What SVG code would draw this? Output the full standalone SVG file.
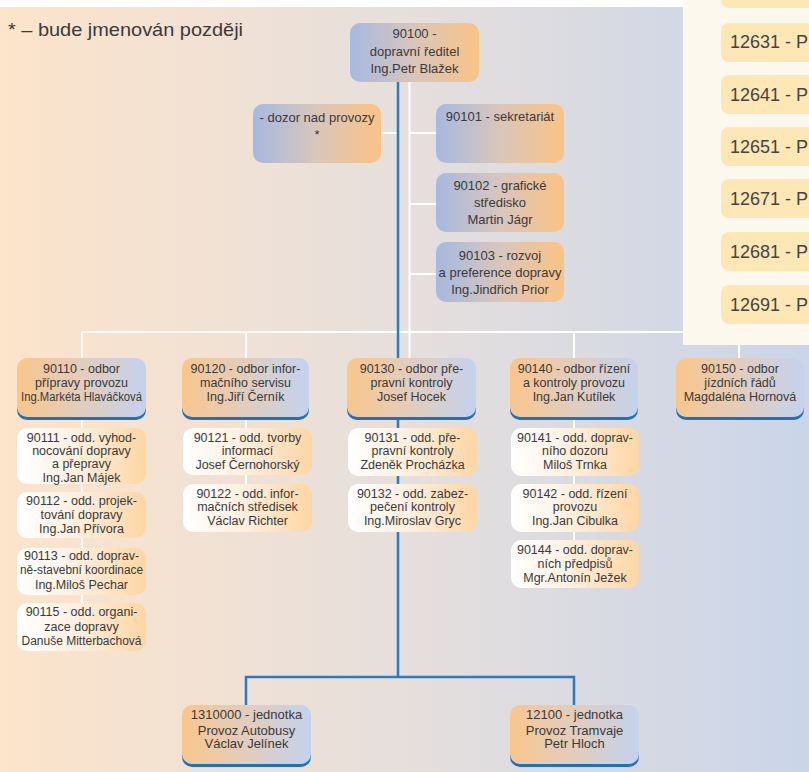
<svg xmlns="http://www.w3.org/2000/svg" width="809" height="772" viewBox="0 0 809 772">
<defs>
<linearGradient id="bg" x1="0" y1="0" x2="1" y2="0"><stop offset="0" stop-color="#fde4cb"/><stop offset="0.5" stop-color="#e6dfdc"/><stop offset="1" stop-color="#cad5e9"/></linearGradient>
<linearGradient id="gTop" x1="0" y1="0" x2="1" y2="0"><stop offset="0" stop-color="#a6b9e0"/><stop offset="0.5" stop-color="#d9c6bb"/><stop offset="1" stop-color="#fbc385"/></linearGradient>
<linearGradient id="gDept" x1="0" y1="0" x2="1" y2="0"><stop offset="0" stop-color="#f9c68c"/><stop offset="0.5" stop-color="#e2cdbd"/><stop offset="1" stop-color="#c4d2ed"/></linearGradient>
<linearGradient id="gSub" x1="0" y1="0" x2="1" y2="0"><stop offset="0" stop-color="#ffffff"/><stop offset="0.45" stop-color="#fef0e0"/><stop offset="1" stop-color="#fdd6a3"/></linearGradient>
</defs>
<style>
text{font-family:"Liberation Sans",Arial,sans-serif;fill:#3a3a3a;text-anchor:middle}
.t13{font-size:13px}
.t12{font-size:12.5px}
.top{fill:url(#gTop)}
.dept{fill:url(#gDept)}
.sh{fill:#1c73bc}
.sub{fill:url(#gSub)}
.wl{stroke:#ffffff;stroke-width:2;fill:none}
.bl{stroke:#2a7cc2;stroke-width:2.5;fill:none}
.pi{fill:#fde7b4}
.pt{font-size:18px;text-anchor:start;fill:#444444}
</style>
<rect x="0" y="0" width="809" height="772" fill="#ffffff"/>
<rect x="0" y="7" width="809" height="765" fill="url(#bg)"/>
<text x="8" y="36" style="font-size:18.5px;text-anchor:start" textLength="235" lengthAdjust="spacingAndGlyphs">* – bude jmenován později</text>

<g id="connectors">
<path class="wl" d="M409.5 82V358M82 332H739M82 332V358M246 332V358M574 332V358M739 332V358M381 133H398M410 133H436M410 204H436M410 274H436M82 417V603M246 417V484M574 417V540"/>
<path class="bl" d="M398 82V677M246 705V677H574V705"/>
</g>

<g id="panel">
<rect x="683" y="0" width="126" height="345" fill="#fdf8ee"/>
<rect class="pi" x="721" y="-31" width="100" height="39" rx="8"/>
<rect class="pi" x="721" y="23" width="100" height="39" rx="8"/>
<text class="pt" x="730" y="48">12631 - P</text>
<rect class="pi" x="721" y="75" width="100" height="39" rx="8"/>
<text class="pt" x="730" y="100.5">12641 - P</text>
<rect class="pi" x="721" y="127" width="100" height="39" rx="8"/>
<text class="pt" x="730" y="152.5">12651 - P</text>
<rect class="pi" x="721" y="179" width="100" height="39" rx="8"/>
<text class="pt" x="730" y="204.5">12671 - P</text>
<rect class="pi" x="721" y="232" width="100" height="39" rx="8"/>
<text class="pt" x="730" y="257.5">12681 - P</text>
<rect class="pi" x="721" y="285" width="100" height="39" rx="8"/>
<text class="pt" x="730" y="310.5">12691 - P</text>
</g>

<g id="n90100"><rect class="top" x="350" y="23" width="129" height="59" rx="10"/>
<text class="t13" x="414.5" y="38">90100 -</text><text class="t13" x="414.5" y="56">dopravní ředitel</text><text class="t13" x="414.5" y="72.5">Ing.Petr Blažek</text></g>
<g id="ndozor"><rect class="top" x="253" y="104" width="128" height="59" rx="10"/>
<text class="t13" x="317" y="121.5">- dozor nad provozy</text><text class="t13" x="317" y="139">*</text></g>
<g id="n90101"><rect class="top" x="436" y="104" width="128" height="59" rx="10"/>
<text class="t13" x="500" y="120.5">90101 - sekretariát</text></g>
<g id="n90102"><rect class="top" x="436" y="173" width="128" height="59" rx="10"/>
<text class="t13" x="500" y="189.5">90102 - grafické</text><text class="t13" x="500" y="206.5">středisko</text><text class="t13" x="500" y="223.5">Martin Jágr</text></g>
<g id="n90103"><rect class="top" x="436" y="242" width="128" height="60" rx="10"/>
<text class="t13" x="500" y="260">90103 - rozvoj</text><text class="t13" x="500" y="277">a preference dopravy</text><text class="t13" x="500" y="293.5">Ing.Jindřich Prior</text></g>

<g id="n90110"><rect class="sh" x="17" y="361" width="129" height="59" rx="10"/><rect class="dept" x="17" y="358" width="129" height="59" rx="10"/>
<text class="t12" x="81.5" y="372.5">90110 - odbor</text><text class="t12" x="81.5" y="387">přípravy provozu</text><text class="t12" x="81.5" y="401" textLength="121" lengthAdjust="spacingAndGlyphs">Ing.Markéta Hlaváčková</text></g>
<g id="n90120"><rect class="sh" x="182" y="361" width="127" height="59" rx="10"/><rect class="dept" x="182" y="358" width="127" height="59" rx="10"/>
<text class="t12" x="245.5" y="372.5">90120 - odbor infor-</text><text class="t12" x="245.5" y="387">mačního servisu</text><text class="t12" x="245.5" y="401">Ing.Jiří Černík</text></g>
<g id="n90130"><rect class="sh" x="347" y="361" width="129" height="59" rx="10"/><rect class="dept" x="347" y="358" width="129" height="59" rx="10"/>
<text class="t12" x="411.5" y="372.5">90130 - odbor pře-</text><text class="t12" x="411.5" y="387">pravní kontroly</text><text class="t12" x="411.5" y="401">Josef Hocek</text></g>
<g id="n90140"><rect class="sh" x="510" y="361" width="128" height="59" rx="10"/><rect class="dept" x="510" y="358" width="128" height="59" rx="10"/>
<text class="t12" x="574" y="372.5">90140 - odbor řízení</text><text class="t12" x="574" y="387">a kontroly provozu</text><text class="t12" x="574" y="401">Ing.Jan Kutílek</text></g>
<g id="n90150"><rect class="sh" x="676" y="361" width="128" height="59" rx="10"/><rect class="dept" x="676" y="358" width="128" height="59" rx="10"/>
<text class="t12" x="740" y="372.5">90150 - odbor</text><text class="t12" x="740" y="387">jízdních řádů</text><text class="t12" x="740" y="401">Magdaléna Hornová</text></g>

<g id="n90111"><rect class="sub" x="17" y="428" width="129" height="56" rx="10"/>
<text class="t12" x="81.5" y="441.5">90111 - odd. vyhod-</text><text class="t12" x="81.5" y="454.5">nocování dopravy</text><text class="t12" x="81.5" y="468">a přepravy</text><text class="t12" x="81.5" y="481.5">Ing.Jan Májek</text></g>
<g id="n90112"><rect class="sub" x="17" y="492" width="129" height="46" rx="10"/>
<text class="t12" x="81.5" y="505">90112 - odd. projek-</text><text class="t12" x="81.5" y="518.5">tování dopravy</text><text class="t12" x="81.5" y="532.5">Ing.Jan Přívora</text></g>
<g id="n90113"><rect class="sub" x="17" y="548" width="129" height="47" rx="10"/>
<text class="t12" x="81.5" y="559.5">90113 - odd. doprav-</text><text class="t12" x="81.5" y="573.5" textLength="123" lengthAdjust="spacingAndGlyphs">ně-stavební koordinace</text><text class="t12" x="81.5" y="588.5">Ing.Miloš Pechar</text></g>
<g id="n90115"><rect class="sub" x="17" y="603" width="129" height="48" rx="10"/>
<text class="t12" x="81.5" y="615.5">90115 - odd. organi-</text><text class="t12" x="81.5" y="630.5">zace dopravy</text><text class="t12" x="81.5" y="644.5" textLength="120" lengthAdjust="spacingAndGlyphs">Danuše Mitterbachová</text></g>

<g id="n90121"><rect class="sub" x="183" y="428" width="129" height="47" rx="10"/>
<text class="t12" x="247.5" y="441.5">90121 - odd. tvorby</text><text class="t12" x="247.5" y="454.5">informací</text><text class="t12" x="247.5" y="468.5">Josef Černohorský</text></g>
<g id="n90122"><rect class="sub" x="183" y="484" width="129" height="48" rx="10"/>
<text class="t12" x="247.5" y="497.5">90122 - odd. infor-</text><text class="t12" x="247.5" y="511">mačních středisek</text><text class="t12" x="247.5" y="524.5">Václav Richter</text></g>

<g id="n90131"><rect class="sub" x="348" y="428" width="129" height="48" rx="10"/>
<text class="t12" x="412.5" y="441.5">90131 - odd. pře-</text><text class="t12" x="412.5" y="454.5">pravní kontroly</text><text class="t12" x="412.5" y="468.5">Zdeněk Procházka</text></g>
<g id="n90132"><rect class="sub" x="348" y="484" width="129" height="48" rx="10"/>
<text class="t12" x="412.5" y="497.5">90132 - odd. zabez-</text><text class="t12" x="412.5" y="511">pečení kontroly</text><text class="t12" x="412.5" y="524.5">Ing.Miroslav Gryc</text></g>

<g id="n90141"><rect class="sub" x="511" y="428" width="128" height="48" rx="10"/>
<text class="t12" x="575" y="441.5">90141 - odd. doprav-</text><text class="t12" x="575" y="454.5">ního dozoru</text><text class="t12" x="575" y="468.5">Miloš Trnka</text></g>
<g id="n90142"><rect class="sub" x="511" y="484" width="128" height="48" rx="10"/>
<text class="t12" x="575" y="497.5">90142 - odd. řízení</text><text class="t12" x="575" y="511">provozu</text><text class="t12" x="575" y="524.5">Ing.Jan Cibulka</text></g>
<g id="n90144"><rect class="sub" x="511" y="540" width="128" height="48" rx="10"/>
<text class="t12" x="575" y="553.5">90144 - odd. doprav-</text><text class="t12" x="575" y="567.5">ních předpisů</text><text class="t12" x="575" y="581.5">Mgr.Antonín Ježek</text></g>

<g id="n1310000"><rect class="sh" x="182" y="708" width="129" height="59" rx="10"/><rect class="dept" x="182" y="705" width="129" height="59" rx="10"/>
<text class="t13" x="246.5" y="718.5">1310000 - jednotka</text><text class="t13" x="246.5" y="734.5">Provoz Autobusy</text><text class="t13" x="246.5" y="748">Václav Jelínek</text></g>
<g id="n12100"><rect class="sh" x="510" y="708" width="129" height="59" rx="10"/><rect class="dept" x="510" y="705" width="129" height="59" rx="10"/>
<text class="t13" x="574.5" y="718.5">12100 - jednotka</text><text class="t13" x="574.5" y="734.5">Provoz Tramvaje</text><text class="t13" x="574.5" y="748">Petr Hloch</text></g>
</svg>
